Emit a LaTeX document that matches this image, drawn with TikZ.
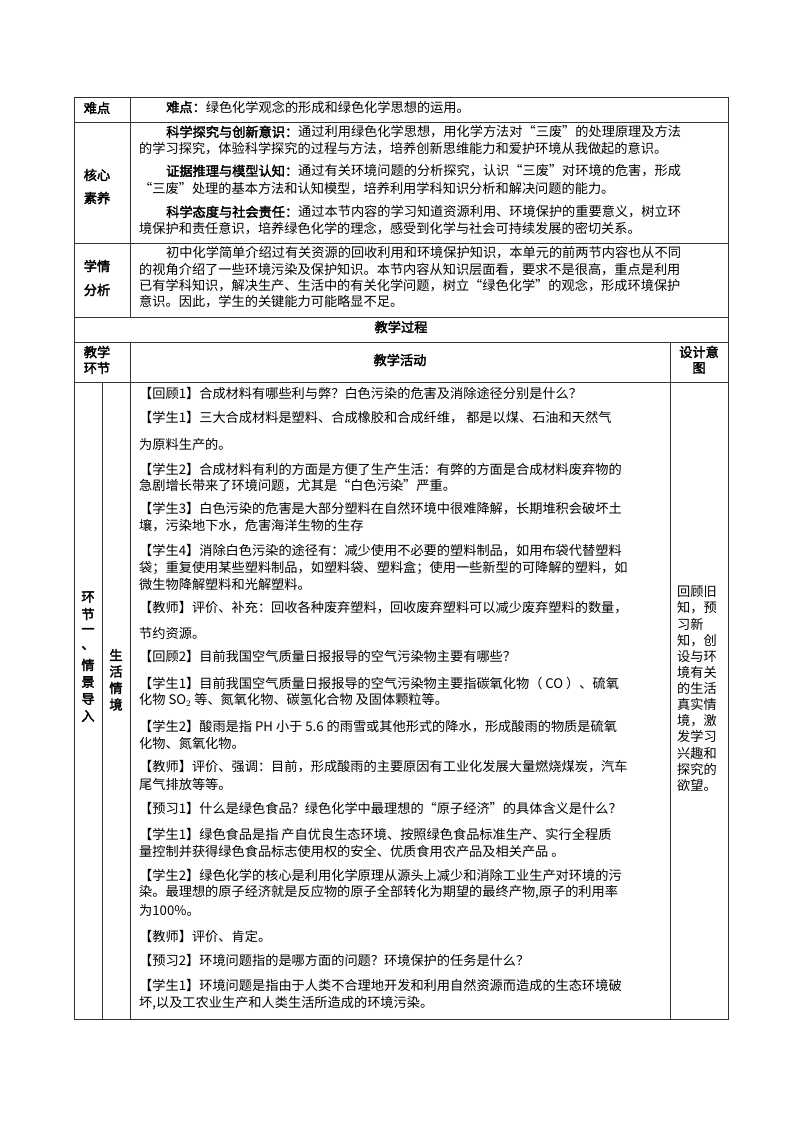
\documentclass[tikz,border=0pt]{standalone}
\usepackage{fontspec}
\setmainfont{Noto Sans CJK SC}[AutoFakeBold=2.5]
\begin{document}
\begin{tikzpicture}[x=1pt,y=-1pt,
  ln/.style={line width=0.8pt,black!80},
  tx/.style={anchor=west,inner sep=0pt,font=\fontsize{13.2}{16}\selectfont},
  ct/.style={anchor=center,inner sep=0pt,font=\fontsize{13.2}{16}\selectfont},
  hd/.style={anchor=center,inner sep=0pt,font=\fontsize{13.2}{16}\selectfont\bfseries}]
\useasboundingbox (0,0) rectangle (800,1132);
\newcounter{ln}
\newcommand\tl[3]{\stepcounter{ln}\node[tx] (t\theln) at (#1,#2) {#3};}
% grid
\draw[ln] (74,97) rectangle (728,1019);
\foreach \y in {122,243,317,342,382} \draw[ln] (74,\y) -- (728,\y);
\draw[ln] (130,97) -- (130,317);
\draw[ln] (130,342) -- (130,1019);
\draw[ln] (670,342) -- (670,1019);
\draw[ln] (102,382) -- (102,1019);
% left labels
\node[hd] (a1) at (97,108) {难点};
\node[hd] (a2) at (97,175) {核心};
\node[hd] (a3) at (97,198) {素养};
\node[hd] (a4) at (97,266) {学情};
\node[hd] (a5) at (97,290) {分析};
\node[hd] (a6) at (401,327) {教学过程};
\node[hd] (a7) at (97,352) {教学};
\node[hd] (a8) at (97,368) {环节};
\node[hd] (a9) at (400,360) {教学活动};
\node[hd] (a10) at (699,352) {设计意};
\node[hd] (a11) at (699,368) {图};
\foreach \c [count=\i from 0] in {环,节,一,、,情,景,导,入}
  \node[hd] (v\i) at (88,597+17*\i) {\c};
\foreach \c [count=\i from 0] in {生,活,情,境}
  \node[hd] (w\i) at (116,655+16.5*\i) {\c};
\foreach \c [count=\i from 0] in {回顾旧,知，预,习新,知，创,设与环,境有关,的生活,真实情,境，激,发学习,兴趣和,探究的,欲望。}
  \node[tx] (r\i) at (677,592+16.1*\i) {\c};
% top rows
\tl{166}{107}{\textbf{难点：}绿色化学观念的形成和绿色化学思想的运用。}
\tl{166}{132}{\textbf{科学探究与创新意识：}通过利用绿色化学思想，用化学方法对“三废”的处理原理及方法}
\tl{139}{149}{的学习探究，体验科学探究的过程与方法，培养创新思维能力和爱护环境从我做起的意识。}
\tl{166}{171}{\textbf{证据推理与模型认知：}通过有关环境问题的分析探究，认识“三废”对环境的危害，形成}
\tl{139}{189}{“三废”处理的基本方法和认知模型，培养利用学科知识分析和解决问题的能力。}
\tl{166}{212}{\textbf{科学态度与社会责任：}通过本节内容的学习知道资源利用、环境保护的重要意义，树立环}
\tl{139}{229}{境保护和责任意识，培养绿色化学的理念，感受到化学与社会可持续发展的密切关系。}
\tl{166}{253}{初中化学简单介绍过有关资源的回收利用和环境保护知识，本单元的前两节内容也从不同}
\tl{139}{270}{的视角介绍了一些环境污染及保护知识。本节内容从知识层面看，要求不是很高，重点是利用}
\tl{139}{286}{已有学科知识，解决生产、生活中的有关化学问题，树立“绿色化学”的观念，形成环境保护}
\tl{139}{302}{意识。因此，学生的关键能力可能略显不足。}
% process
\tl{139}{393}{【回顾1】合成材料有哪些利与弊？白色污染的危害及消除途径分别是什么？}
\tl{139}{418}{【学生1】三大合成材料是塑料、合成橡胶和合成纤维，\ 都是以煤、石油和天然气}
\tl{139}{444}{为原料生产的。}
\tl{139}{469}{【学生2】合成材料有利的方面是方便了生产生活：有弊的方面是合成材料废弃物的}
\tl{139}{486}{急剧增长带来了环境问题，尤其是“白色污染”严重。}
\tl{139}{509}{【学生3】白色污染的危害是大部分塑料在自然环境中很难降解，长期堆积会破坏土}
\tl{139}{526}{壤，污染地下水，危害海洋生物的生存}
\tl{139}{551}{【学生4】消除白色污染的途径有：减少使用不必要的塑料制品，如用布袋代替塑料}
\tl{139}{568}{袋；重复使用某些塑料制品，如塑料袋、塑料盒；使用一些新型的可降解的塑料，如}
\tl{139}{584}{微生物降解塑料和光解塑料。}
\tl{139}{608}{【教师】评价、补充：回收各种废弃塑料，回收废弃塑料可以减少废弃塑料的数量，}
\tl{139}{633}{节约资源。}
\tl{139}{656}{【回顾2】目前我国空气质量日报报导的空气污染物主要有哪些？}
\tl{139}{683}{【学生1】目前我国空气质量日报报导的空气污染物主要指碳氧化物（ CO ）、硫氧}
\tl{139}{700}{化物\ SO$_2$ 等、氮氧化物、碳氢化合物\ 及固体颗粒等。}
\tl{139}{727}{【学生2】酸雨是指\ PH 小于 5.6 的雨雪或其他形式的降水，形成酸雨的物质是硫氧}
\tl{139}{743}{化物、氮氧化物。}
\tl{139}{767}{【教师】评价、强调：目前，形成酸雨的主要原因有工业化发展大量燃烧煤炭，汽车}
\tl{139}{784}{尾气排放等等。}
\tl{139}{808}{【预习1】什么是绿色食品？绿色化学中最理想的“原子经济”的具体含义是什么？}
\tl{139}{834}{【学生1】绿色食品是指\ 产自优良生态环境、按照绿色食品标准生产、实行全程质}
\tl{139}{851}{量控制并获得绿色食品标志使用权的安全、优质食用农产品及相关产品\ 。}
\tl{139}{875}{【学生2】绿色化学的核心是利用化学原理从源头上减少和消除工业生产对环境的污}
\tl{139}{892}{染。最理想的原子经济就是反应物的原子全部转化为期望的最终产物,原子的利用率}
\tl{139}{910}{为100\%。}
\tl{139}{936}{【教师】评价、肯定。}
\tl{139}{960}{【预习2】环境问题指的是哪方面的问题？环境保护的任务是什么？}
\tl{139}{985}{【学生1】环境问题是指由于人类不合理地开发和利用自然资源而造成的生态环境破}
\tl{139}{1003}{坏,以及工农业生产和人类生活所造成的环境污染。}
\end{tikzpicture}
\end{document}
